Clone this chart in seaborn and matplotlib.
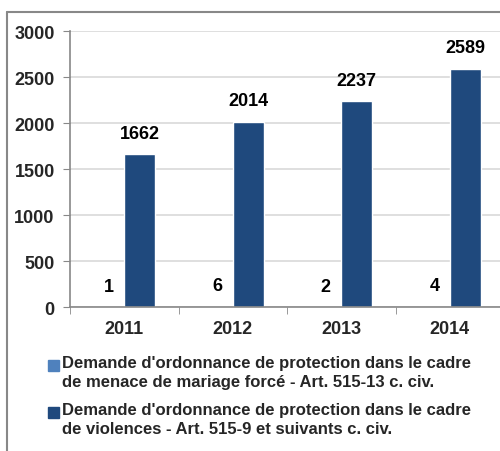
import matplotlib
matplotlib.use("Agg")
import matplotlib.pyplot as plt
import matplotlib.patches as mpatches
import pandas as pd
import seaborn as sns

# Data
years = ["2011", "2012", "2013", "2014"]
mariage_force = [1, 6, 2, 4]
violences = [1662, 2014, 2237, 2589]
series_names = [
    "Demande d'ordonnance de protection dans le cadre\nde menace de mariage forcé - Art. 515-13 c. civ.",
    "Demande d'ordonnance de protection dans le cadre\nde violences - Art. 515-9 et suivants c. civ.",
]
colors = ["#4f81bd", "#1f497d"]

df = pd.DataFrame({
    "annee": years * 2,
    "valeur": mariage_force + violences,
    "serie": [series_names[0]] * 4 + [series_names[1]] * 4,
})

sns.set_style("white")
plt.rcParams["font.family"] = ["Liberation Sans", "DejaVu Sans"]
plt.rcParams["font.weight"] = "bold"

W, H = 500, 452
fig = plt.figure(figsize=(W / 100, H / 100), dpi=100)
ax = fig.add_axes([0.14, 0.318, 0.868, 0.611])

sns.barplot(data=df, x="annee", y="valeur", hue="serie", palette=colors,
            width=0.57, ax=ax, legend=False, saturation=1)

for cont in ax.containers:
    ax.bar_label(cont, padding=9, fontsize=13, fontweight="bold", color="black")

ax.set_ylim(0, 3000)
ax.set_xlim(-0.5, 3.5)
ax.set_yticks(range(0, 3001, 500))
ax.yaxis.grid(True, color="#d9d9d9", linewidth=1.2)
ax.set_axisbelow(True)
ax.set_xlabel("")
ax.set_ylabel("")
for s in ["top", "right"]:
    ax.spines[s].set_visible(False)
for s in ["left", "bottom"]:
    ax.spines[s].set_color("#888888")
    ax.spines[s].set_linewidth(1.2)

ax.set_xticks([0, 1, 2, 3])
ax.tick_params(axis="x", length=0, labelsize=13, pad=9)
ax.tick_params(axis="y", length=5, color="#888888", labelsize=13, pad=6, direction="out", left=True)
ax.set_xticks([-0.5, 0.5, 1.5, 2.5, 3.5], minor=True)
ax.tick_params(axis="x", which="minor", length=5, color="#888888", direction="out", bottom=True)
for lab in ax.get_xticklabels() + ax.get_yticklabels():
    lab.set_fontweight("bold")

# outer frame
fig.add_artist(plt.Line2D([0.014, 0.014], [0, 0.971], color="#888888", linewidth=1.5))
fig.add_artist(plt.Line2D([0.014, 1.0], [0.971, 0.971], color="#888888", linewidth=1.5))

# legend: square aligned with the first line of each two-line label
for i, (c, name) in enumerate(zip(colors, series_names)):
    y_first = 366 + i * 47  # pixel centre of the first text line
    fig.add_artist(mpatches.Rectangle((48 / W, 1 - (y_first + 6) / H), 11 / W, 11 / H,
                                      color=c, transform=fig.transFigure))
    fig.text(62 / W, 1 - (y_first - 10) / H, name, ha="left", va="top",
             fontsize=12, fontweight="bold", linespacing=1.3)

fig.savefig("out.png", dpi=100)
